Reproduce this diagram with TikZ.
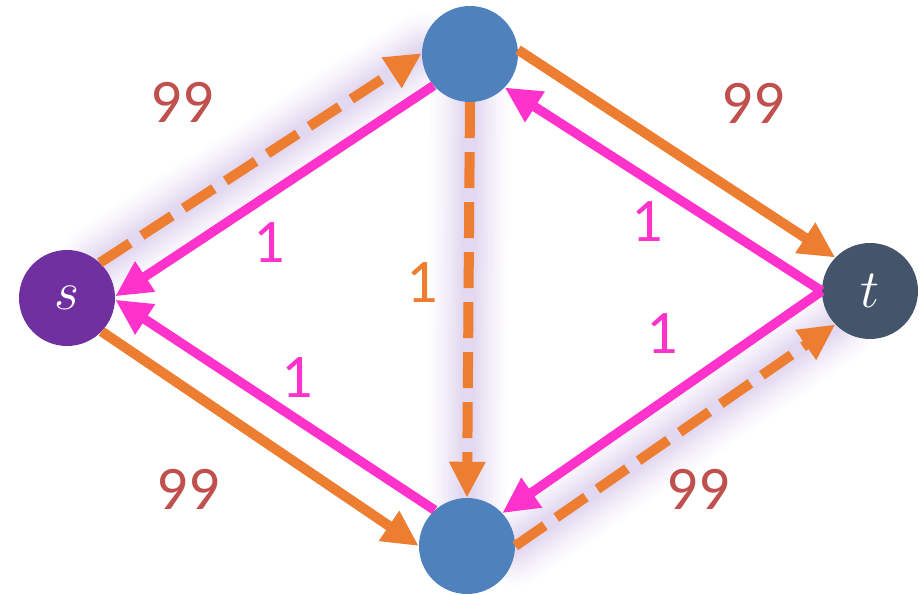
\RequirePackage{fix-cm}
\documentclass[tikz,border=0pt]{standalone}
\usepackage{fontspec}
\newfontfamily\numfont{Carlito}
\usetikzlibrary{arrows.meta}
\definecolor{orng}{HTML}{ED7D31}
\definecolor{pnk}{HTML}{FF33CC}
\definecolor{capred}{HTML}{C0504D}
\definecolor{srcc}{HTML}{7030A0}
\definecolor{midc}{HTML}{4F81BD}
\definecolor{sinkc}{HTML}{44546A}
\definecolor{glowc}{RGB}{226,216,240}
\pgfdeclarelayer{bg}
\pgfsetlayers{bg,main}
\begin{document}
\begin{tikzpicture}[x=1pt,y=-1pt,
  vert/.style={circle, minimum size=96pt, inner sep=0pt, text=white,
    font=\fontsize{54}{54}\selectfont},
  flow/.style={line width=10pt, -{Triangle[length=36pt,width=34pt]}},
  fwd/.style={flow, draw=orng},
  aug/.style={fwd, dash pattern=on 36pt off 14pt},
  back/.style={flow, draw=pnk, line width=9.5pt},
  num/.style={font=\numfont\fontsize{62}{62}\selectfont, inner sep=0pt},
  capl/.style={num, text=capred},
  resl/.style={num, text=pnk},
  augl/.style={num, text=orng}]
\useasboundingbox (0,0) rectangle (922,595);

% vertices
\node[vert, fill=srcc]  (s)      at (67,298)  {$s$};
\node[vert, fill=midc]  (top)    at (470,54)  {};
\node[vert, fill=midc]  (bottom) at (467,546) {};
\node[vert, fill=sinkc] (t)      at (870,291) {$t$};

% soft halo behind the augmenting path
\begin{pgfonlayer}{bg}
  \foreach \w/\p in {80/6,73/12,66/20,59/29,52/39,45/50,38/61,31/72,24/84,17/95,12/100}{
    \draw[line width=\w pt, glowc!\p!white, line cap=round]
      (s.47) -- (top.179) (top.270) -- (bottom.90) (bottom.0) -- (t.224);
  }
\end{pgfonlayer}

% forward capacities
\draw[aug] (s.47) -- (top.179);
\draw[aug] (top.270) -- (bottom.90);
\draw[aug] (bottom.0) -- (t.224);
\draw[fwd] (top.5) -- (t.136);
\draw[fwd] (s.316) -- (bottom.180);

% residual edges
\draw[back] (top.221) -- (s.2);
\draw[back] (bottom.132) -- (s.358);
\draw[back] (t.180) -- (top.316);
\draw[back] (t.180) -- (bottom.43);

% labels
\node[capl] (c1) at (182,102) {99};
\node[capl] (c2) at (753,103) {99};
\node[capl] (c3) at (188,489) {99};
\node[capl] (c4) at (698,489) {99};
\node[resl] (r1) at (269,243) {1};
\node[resl] (r2) at (297,378) {1};
\node[resl] (r3) at (647,222) {1};
\node[resl] (r4) at (662,334) {1};
\node[augl] (a1) at (422,283) {1};
\end{tikzpicture}
\end{document}
